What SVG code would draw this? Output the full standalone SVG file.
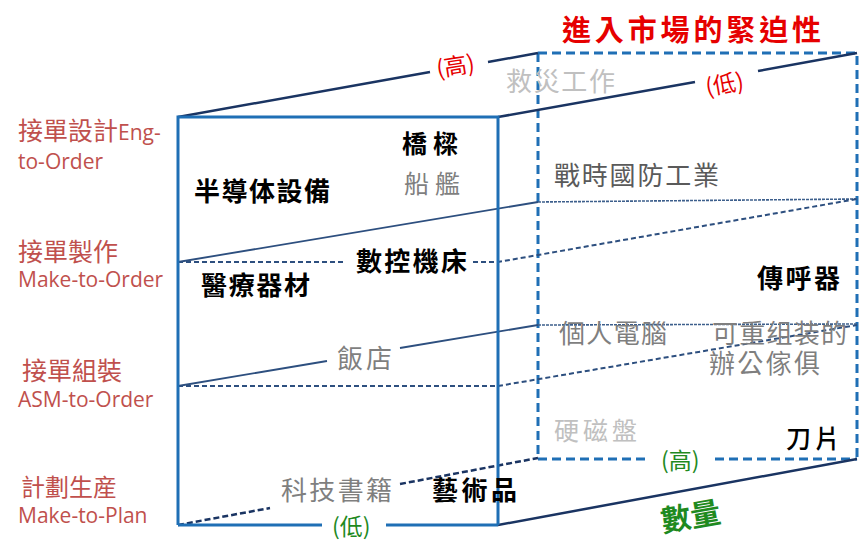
<svg xmlns="http://www.w3.org/2000/svg" width="862" height="549" viewBox="0 0 862 549">
<style>
.cjk{font-family:"Noto Sans CJK TC","Noto Sans CJK SC",sans-serif}
.cjk2{font-family:"Liberation Sans","Noto Sans CJK TC","Noto Sans CJK SC",sans-serif}
.lbl{fill:#c0504d}
.lat{font-family:"Open Sans","Noto Sans",sans-serif;font-size:21px}
.blk{fill:#000;font-weight:700}
.gry{fill:#7f7f7f}
.lgr{fill:#c0c0c0}
.dgr{fill:#5a5a5a}
.red{fill:#e60000}
.grn{fill:#1f8a1f}
.front{stroke:#1f6fb5;stroke-width:3;fill:none}
.back{stroke:#1f6fb5;stroke-width:3;fill:none;stroke-dasharray:9 5}
.edge{stroke:#1a3462;stroke-width:2.5;fill:none}
.edged{stroke:#1a3462;stroke-width:2.5;fill:none;stroke-dasharray:6 3}
.mid{stroke:#2d4f7f;stroke-width:1.8;fill:none}
.midd{stroke:#2d4f7f;stroke-width:2;fill:none;stroke-dasharray:5 3}
.thin{stroke:#3d5f8c;stroke-width:1.6;fill:none;stroke-dasharray:3 1}
</style>
<rect width="862" height="549" fill="#fff"/>
<g id="connectors">
  <path class="back" d="M538,53 H857 V459 M538,53 V459 M538,459 H646 M715,459 H857"/>
  <path class="edge" d="M178,117 L430,72 M488,62 L538,53"/>
  <path class="edge" d="M498,117 L695,82 M758,71 L857,53"/>
  <path class="edge" d="M498,525 L857,459"/>
  <path class="edged" d="M178,525 L270,508 M400,484 L538,458"/>
  <path class="mid" d="M178,262 L538,202"/>
  <path class="thin" d="M538,202 L857,199"/>
  <path class="midd" d="M178,262 H343 M473,262 H498 L857,199"/>
  <path class="mid" d="M178,386 L327,361 M400,348 L538,325"/>
  <path class="thin" d="M538,325 L857,324"/>
  <path class="midd" d="M178,386 H498 L857,325"/>
  <path class="front" d="M178,525 V117 H498 V525 M178,525 H322 M386,525 H498"/>
</g>
<g id="title"><text class="cjk red" x="562" y="41" font-size="29" font-weight="700" textLength="259" lengthAdjust="spacing">進入市場的緊迫性</text></g>
<g id="axis-labels">
  <text class="cjk red" x="436" y="74" font-size="23" transform="rotate(-9 457 65)">(高)</text>
  <text class="cjk red" x="705" y="92" font-size="23" transform="rotate(-10 726 83)">(低)</text>
  <text class="cjk grn" x="332" y="535" font-size="23">(低)</text>
  <text class="cjk grn" x="661" y="469" font-size="23">(高)</text>
  <text class="cjk grn" x="660" y="527" font-size="30" font-weight="700" transform="rotate(-10 692 513)">數量</text>
</g>
<g id="row-labels">
  <text class="cjk2 lbl" x="18" y="140" font-size="25">接單設計<tspan class="lat">Eng-</tspan></text>
  <text class="lat lbl" x="18" y="169">to-Order</text>
  <text class="cjk lbl" x="18" y="261" font-size="25">接單製作</text>
  <text class="lat lbl" x="18" y="287">Make-to-Order</text>
  <text class="cjk lbl" x="22" y="380" font-size="25">接單組裝</text>
  <text class="lat lbl" x="18" y="407">ASM-to-Order</text>
  <text class="cjk lbl" x="21" y="496" font-size="24">計劃生産</text>
  <text class="lat lbl" x="18" y="523">Make-to-Plan</text>
</g>
<g id="items" class="cjk">
  <g id="n-bridge"><text class="blk" x="402" y="153" font-size="25" textLength="56" lengthAdjust="spacing">橋樑</text></g>
  <g id="n-ship"><text class="gry" x="404" y="193" font-size="25" textLength="56" lengthAdjust="spacing">船艦</text></g>
  <g id="n-semi"><text class="blk" x="194" y="201" font-size="26" textLength="136" lengthAdjust="spacing">半導体設備</text></g>
  <g id="n-defense"><text class="dgr" x="554" y="185" font-size="26" textLength="165" lengthAdjust="spacing">戰時國防工業</text></g>
  <g id="n-relief"><text class="lgr" x="506" y="91" font-size="26" textLength="109" lengthAdjust="spacing">救災工作</text></g>
  <g id="n-cnc"><text class="blk" x="356" y="271" font-size="26" textLength="111" lengthAdjust="spacing">數控機床</text></g>
  <g id="n-medical"><text class="blk" x="201" y="295" font-size="26" textLength="109" lengthAdjust="spacing">醫療器材</text></g>
  <g id="n-pager"><text class="blk" x="757" y="288" font-size="26" textLength="83" lengthAdjust="spacing">傳呼器</text></g>
  <g id="n-pc"><text class="gry" x="559" y="343" font-size="26" textLength="108" lengthAdjust="spacing">個人電腦</text></g>
  <g id="n-furniture"><text class="cjk2 gry" x="712" y="343" font-size="26" textLength="135" lengthAdjust="spacing">可重组装的</text><text class="cjk2 gry" x="709" y="373" font-size="26" textLength="111" lengthAdjust="spacing">辦公傢俱</text></g>
  <g id="n-hotel"><text class="gry" x="337" y="368" font-size="26" textLength="55" lengthAdjust="spacing">飯店</text></g>
  <g id="n-hdd"><text class="lgr" x="554" y="440" font-size="25" textLength="83" lengthAdjust="spacing">硬磁盤</text></g>
  <g id="n-blade"><text x="786" y="448" font-size="25" fill="#000" font-weight="500" textLength="54" lengthAdjust="spacing">刀片</text></g>
  <g id="n-books"><text class="gry" x="281" y="500" font-size="26" textLength="111" lengthAdjust="spacing">科技書籍</text></g>
  <g id="n-art"><text class="blk" x="432" y="500" font-size="26" textLength="85" lengthAdjust="spacing">藝術品</text></g>
</g>
</svg>
